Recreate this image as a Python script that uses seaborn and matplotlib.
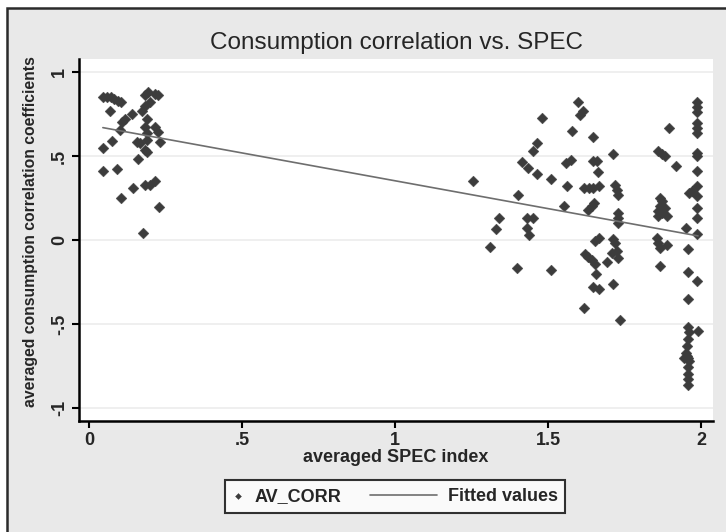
import matplotlib
matplotlib.use("Agg")
import matplotlib.pyplot as plt
from matplotlib.legend_handler import HandlerLine2D
from matplotlib.lines import Line2D
import seaborn as sns
import pandas as pd

# cluster near SPEC ~ 0.05-0.23
left_x = [0.045, 0.058, 0.071, 0.083, 0.096, 0.105, 0.069, 0.14, 0.118, 0.107,
          0.101, 0.074, 0.045, 0.045, 0.09, 0.105, 0.145, 0.16, 0.177, 0.183,
          0.2, 0.216, 0.229, 0.183, 0.194, 0.216, 0.226, 0.2, 0.183, 0.172,
          0.19, 0.183, 0.188, 0.216, 0.226, 0.232, 0.156, 0.167, 0.188, 0.183,
          0.19]
left_y = [0.85, 0.852, 0.85, 0.84, 0.83, 0.82, 0.77, 0.75, 0.72, 0.70,
          0.655, 0.59, 0.55, 0.41, 0.42, 0.25, 0.31, 0.48, 0.043, 0.33,
          0.33, 0.35, 0.197, 0.86, 0.88, 0.87, 0.86, 0.82, 0.80, 0.77,
          0.72, 0.67, 0.635, 0.675, 0.645, 0.585, 0.585, 0.575, 0.595, 0.535,
          0.525]

# cluster near SPEC ~ 1.25-1.74
mid_x = [1.256, 1.341, 1.33, 1.31, 1.401, 1.40, 1.414, 1.436, 1.45, 1.465,
         1.465, 1.479, 1.43, 1.452, 1.432, 1.439, 1.51, 1.51, 1.552, 1.561,
         1.559, 1.574, 1.577, 1.597, 1.605, 1.615, 1.618, 1.648, 1.648, 1.659,
         1.662, 1.619, 1.634, 1.648, 1.668, 1.632, 1.643, 1.65, 1.654, 1.668,
         1.621, 1.632, 1.643, 1.654, 1.692, 1.657, 1.646, 1.668, 1.711, 1.713,
         1.72, 1.724, 1.727, 1.727, 1.728, 1.728, 1.713, 1.719, 1.708, 1.724,
         1.727, 1.735]
mid_y = [0.35, 0.132, 0.063, -0.04, 0.266, -0.168, 0.467, 0.428, 0.527, 0.58,
         0.39, 0.728, 0.132, 0.132, 0.073, 0.03, 0.365, -0.176, 0.205, 0.32,
         0.457, 0.477, 0.65, 0.822, 0.744, 0.767, -0.404, 0.61, 0.473, 0.473,
         0.404, 0.31, 0.31, 0.31, 0.32, 0.18, 0.2, 0.22, -0.006, 0.014,
         -0.085, -0.1, -0.12, -0.14, -0.128, -0.2, -0.28, -0.29, -0.26, 0.51,
         0.33, 0.30, 0.27, 0.16, 0.13, 0.10, 0.004, -0.016, -0.075, -0.065,
         -0.105, -0.475]

# cluster near SPEC ~ 1.86-1.92
right_x = [1.896, 1.86, 1.871, 1.882, 1.918, 1.866, 1.871, 1.866, 1.86, 1.871,
           1.882, 1.888, 1.86, 1.855, 1.86, 1.866, 1.888, 1.866]
right_y = [0.665, 0.527, 0.51, 0.497, 0.438, 0.25, 0.23, 0.20, 0.17, 0.16,
           0.19, 0.14, 0.14, 0.014, -0.02, -0.05, -0.03, -0.154]

# column near SPEC ~ 1.95-1.99
edge_x = [1.986, 1.986, 1.986, 1.986, 1.986, 1.986, 1.986, 1.986, 1.986, 1.986,
          1.97, 1.986, 1.96, 1.986, 1.986, 1.951, 1.986, 1.958, 1.958, 1.986,
          1.958, 1.958, 1.962, 1.99, 1.958, 1.955, 1.95, 1.955, 1.958, 1.945,
          1.962, 1.958, 1.958, 1.958, 1.958]
edge_y = [0.822, 0.793, 0.763, 0.694, 0.665, 0.635, 0.517, 0.497, 0.408, 0.32,
          0.29, 0.26, 0.28, 0.19, 0.13, 0.073, 0.034, -0.055, -0.193, -0.243,
          -0.35, -0.52, -0.55, -0.54, -0.59, -0.63, -0.675, -0.69, -0.70, -0.70,
          -0.72, -0.755, -0.80, -0.83, -0.86]

x_ticks = [0, 0.5, 1, 1.5, 2]
x_labels = ["0", ".5", "1", "1.5", "2"]
y_ticks = [-1, -0.5, 0, 0.5, 1]
y_labels = ["-1", "-.5", "0", ".5", "1"]

df = pd.DataFrame({
    "SPEC": left_x + mid_x + right_x + edge_x,
    "AV_CORR": left_y + mid_y + right_y + edge_y,
})


class LongLine(HandlerLine2D):
    # stretch the line handle to the left, like Stata's legend key
    def create_artists(self, legend, orig_handle, xdescent, ydescent, width,
                       height, fontsize, trans):
        extra = 40
        return super().create_artists(legend, orig_handle, xdescent + extra, ydescent,
                                      width + extra, height, fontsize, trans)


sns.set_style("white")
narrow = ["Liberation Sans Narrow", "Liberation Sans", "DejaVu Sans"]
plain = ["Liberation Sans", "DejaVu Sans"]

fig = plt.figure(figsize=(7.26, 5.32), dpi=100, facecolor="white")
bg = plt.Rectangle((7 / 726, -0.1), 1.2, 1 - 8 / 532 + 0.1, transform=fig.transFigure,
                   facecolor="#e9e9e9", edgecolor="#2b2b2b", lw=1.8, zorder=0)
fig.add_artist(bg)

ax = fig.add_axes([79 / 726, 1 - 421 / 532, (713 - 79) / 726, (421 - 59) / 532])
ax.set_facecolor("white")

sns.scatterplot(data=df, x="SPEC", y="AV_CORR", marker="D", s=30, color="#3c3c3c",
                edgecolor="#3c3c3c", linewidth=0.3, label="AV_CORR", ax=ax, zorder=3)
sns.regplot(data=df, x="SPEC", y="AV_CORR", scatter=False, ci=None, ax=ax,
            color="#6e6e6e", line_kws={"lw": 1.2, "zorder": 4}, label="Fitted values")

ax.set_xlim(-0.033, 2.039)
ax.set_ylim(-1.077, 1.077)
ax.set_xticks(x_ticks)
ax.set_xticklabels(x_labels, family=narrow, weight="bold", fontsize=13)
ax.set_yticks(y_ticks)
ax.set_yticklabels(y_labels, family=narrow, weight="bold", fontsize=13,
                   rotation=90, va="center")
ax.tick_params(axis="both", direction="out", length=5, width=1.5, color="black",
               left=True, bottom=True, pad=3)
ax.grid(axis="y", color="#ececec", lw=1.2)
ax.grid(axis="x", visible=False)
for side in ["top", "right"]:
    ax.spines[side].set_visible(False)
for side in ["left", "bottom"]:
    ax.spines[side].set_color("black")
    ax.spines[side].set_linewidth(1.8)

ax.set_xlabel("averaged SPEC index", family=narrow, weight="bold", fontsize=13, labelpad=0)
ax.set_ylabel("averaged consumption correlation coefficients", family=narrow,
              weight="bold", fontsize=11.3, labelpad=5)
ax.yaxis.set_label_coords(-0.064, 0.522)
ax.set_title("Consumption correlation vs. SPEC", family=plain, fontsize=17.5, pad=7)

leg = ax.legend(loc="center", bbox_to_anchor=(395 / 726, 1 - 496.5 / 532),
                bbox_transform=fig.transFigure, ncol=2, frameon=True, fancybox=False,
                prop={"family": narrow, "weight": "bold", "size": 13},
                markerscale=0.55, handlelength=0.6, columnspacing=4.7,
                borderpad=0.42, handletextpad=0.6,
                handler_map={Line2D: LongLine()})
leg.get_frame().set_edgecolor("black")
leg.get_frame().set_linewidth(1.5)

fig.savefig("out.png", dpi=100, facecolor=fig.get_facecolor())
